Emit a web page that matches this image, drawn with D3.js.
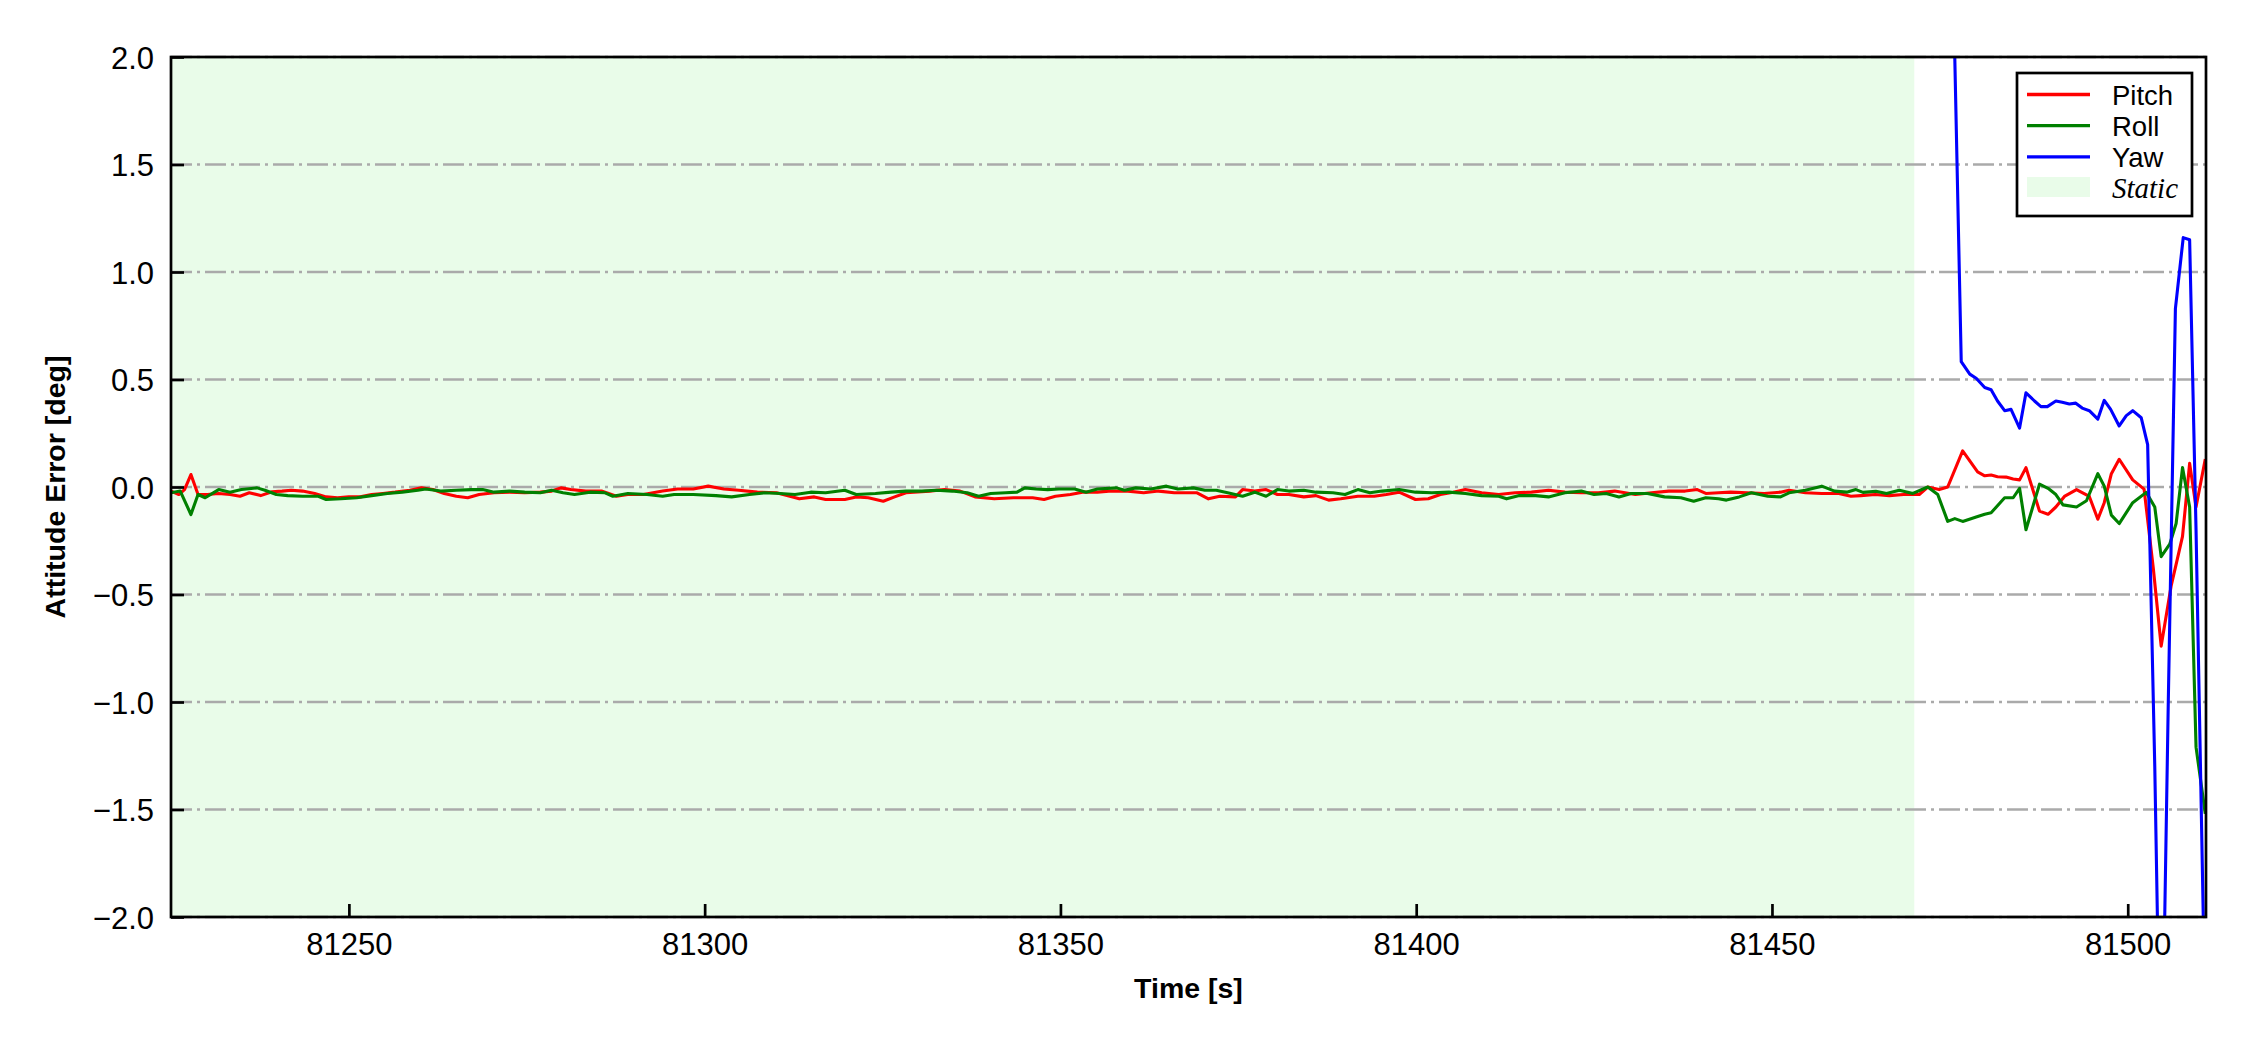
<!DOCTYPE html>
<html>
<head>
<meta charset="utf-8">
<script src="https://cdn.jsdelivr.net/npm/d3@7"></script>
<style>
    body { margin: 0; background: #fff; }
    text { font-family: "Liberation Sans", Arial, sans-serif; }
</style>
</head>
<body>
<svg id="svg" width="2250" height="1050"></svg>
<script>
// time axis [s]
const xDomain = [81225, 81511];
const staticSpan = [81225, 81470];
const xTicks = [81250, 81300, 81350, 81400, 81450, 81500];
const yTicks = [-2.0, -1.5, -1.0, -0.5, 0.0, 0.5, 1.0, 1.5, 2.0];

// Pitch error (red)
const pitchTime = [81225.0, 81226.1, 81226.9, 81227.8, 81228.8, 81230.1, 81231.7, 81233.3, 81234.7, 81236.0,
    81237.6, 81239.2, 81240.6, 81241.9, 81243.5, 81245.2, 81246.8, 81248.4, 81250.0, 81251.6,
    81253.2, 81254.8, 81256.5, 81258.6, 81260.2, 81261.8, 81263.4, 81265.1, 81266.7, 81268.3,
    81270.4, 81272.6, 81274.7, 81276.9, 81278.5, 81279.8, 81281.2, 81283.3, 81285.5, 81287.6,
    81289.2, 81291.4, 81294.1, 81296.2, 81298.4, 81300.5, 81302.7, 81304.8,
    81307.4, 81310.1, 81313.3, 81315.4, 81317.0, 81319.7, 81321.3, 81323.0, 81325.1, 81326.7,
    81328.3, 81331.6, 81333.7, 81335.9, 81338.0, 81340.7, 81343.4, 81346.1, 81347.7, 81349.3,
    81351.4, 81353.1, 81355.2, 81356.8, 81359.5, 81361.7, 81363.8, 81366.0, 81369.2, 81370.8,
    81372.4, 81374.6, 81375.6, 81377.3, 81378.9, 81380.5, 81382.1,
    81384.2, 81385.9, 81387.7, 81389.4, 81391.8, 81394.1, 81395.8, 81397.6, 81399.9, 81401.7,
    81403.4, 81405.2, 81406.9, 81409.2, 81411.6, 81413.9, 81416.2, 81418.6, 81420.9, 81423.2,
    81425.6, 81427.9, 81430.8, 81433.1, 81435.5, 81437.8, 81439.5, 81440.7, 81442.5, 81444.2,
    81446.5, 81448.9, 81451.2, 81452.4, 81454.7, 81457.0, 81459.4, 81461.1,
    81462.5, 81464.5, 81466.5, 81468.5, 81470.7, 81471.9, 81473.5, 81474.7, 81476.8, 81478.9,
    81479.9, 81480.8, 81481.7, 81482.9, 81483.9, 81484.8, 81485.7, 81487.6, 81488.8, 81489.9,
    81491.1, 81492.8, 81494.6, 81495.8, 81496.7, 81497.7, 81498.8, 81500.7, 81502.3, 81503.6,
    81504.7, 81506.1, 81506.8, 81507.7, 81508.7, 81509.6, 81510.9];
const pitch = [-0.019, -0.035, -0.012, 0.058, -0.035, -0.035, -0.030, -0.035, -0.043, -0.027,
    -0.040, -0.022, -0.019, -0.015, -0.019, -0.030, -0.046, -0.050, -0.046, -0.046,
    -0.035, -0.030, -0.024, -0.015, -0.004, -0.012, -0.030, -0.043, -0.050, -0.035,
    -0.027, -0.024, -0.027, -0.024, -0.019, -0.004, -0.012, -0.019, -0.019, -0.043,
    -0.035, -0.035, -0.019, -0.009, -0.009, 0.004, -0.009, -0.015,
    -0.024, -0.027, -0.055, -0.046, -0.058, -0.058, -0.046, -0.050, -0.066, -0.046,
    -0.027, -0.019, -0.012, -0.019, -0.046, -0.055, -0.050, -0.050, -0.058, -0.043,
    -0.035, -0.024, -0.024, -0.019, -0.019, -0.027, -0.019, -0.027, -0.027, -0.055,
    -0.043, -0.046, -0.012, -0.019, -0.012, -0.035, -0.035,
    -0.046, -0.040, -0.061, -0.055, -0.043, -0.043, -0.035, -0.024, -0.058, -0.055,
    -0.035, -0.024, -0.012, -0.027, -0.035, -0.027, -0.024, -0.015, -0.024, -0.027,
    -0.027, -0.019, -0.035, -0.027, -0.019, -0.019, -0.012, -0.030, -0.027, -0.024,
    -0.027, -0.030, -0.024, -0.015, -0.027, -0.030, -0.030, -0.043,
    -0.040, -0.035, -0.040, -0.035, -0.035, 0.000, -0.012, 0.000, 0.168, 0.070,
    0.052, 0.056, 0.048, 0.046, 0.037, 0.033, 0.090, -0.112, -0.127, -0.093,
    -0.044, -0.012, -0.044, -0.150, -0.073, 0.062, 0.129, 0.033, -0.010, -0.380,
    -0.740, -0.460, -0.360, -0.230, 0.110, -0.093, 0.130];

// Roll error (green)
const rollTime = [81225.0, 81226.3, 81227.8, 81228.8, 81229.8, 81231.7, 81233.3, 81234.9, 81237.1, 81238.2,
    81239.8, 81241.4, 81243.5, 81245.7, 81246.8, 81248.9, 81251.1, 81253.2, 81255.4, 81257.5,
    81259.7, 81260.8, 81262.9, 81265.1, 81267.2, 81268.8, 81270.4, 81272.6, 81274.7, 81276.9,
    81278.5, 81280.1, 81281.7, 81283.9, 81286.0, 81287.1, 81289.2, 81291.9, 81294.1, 81295.7,
    81298.4, 81301.6, 81303.8,
    81306.3, 81308.4, 81310.6, 81312.7, 81314.9, 81317.0, 81319.7, 81321.3, 81324.0, 81326.2,
    81328.3, 81330.5, 81332.6, 81334.8, 81336.9, 81338.5, 81340.2, 81342.3, 81343.9, 81345.0,
    81346.6, 81348.2, 81349.8, 81352.0, 81353.6, 81355.2, 81357.9, 81359.0, 81360.6, 81362.7,
    81364.9, 81366.5, 81368.7, 81370.3, 81371.9, 81373.5, 81375.6, 81377.3, 81378.9, 81380.5,
    81382.1,
    81384.2, 81385.9, 81388.3, 81390.0, 81391.8, 81393.5, 81395.2, 81397.6, 81399.9, 81402.2,
    81404.6, 81406.9, 81409.2, 81411.6, 81412.7, 81414.5, 81416.8, 81418.6, 81420.9, 81423.2,
    81425.0, 81426.7, 81428.5, 81430.2, 81432.5, 81434.9, 81437.2, 81439.0, 81440.7, 81442.5,
    81443.6, 81445.4, 81447.1, 81449.4, 81451.2, 81452.4, 81454.7, 81457.0, 81458.8, 81460.5,
    81461.8, 81462.8, 81464.6, 81466.1, 81467.9, 81469.8, 81471.9, 81473.3, 81474.7, 81475.7,
    81476.8, 81478.7, 81479.9, 81480.8, 81482.7, 81483.9, 81484.8, 81485.7, 81487.6, 81488.8,
    81489.9, 81490.9, 81492.8, 81494.2, 81495.8, 81496.7, 81497.7, 81498.8, 81500.7, 81502.6,
    81503.8, 81504.7, 81505.9, 81506.8, 81507.7, 81508.7, 81509.6, 81510.9];
const roll = [-0.027, -0.019, -0.128, -0.035, -0.050, -0.012, -0.024, -0.012, -0.004, -0.015,
    -0.035, -0.040, -0.043, -0.043, -0.058, -0.055, -0.050, -0.040, -0.030, -0.024,
    -0.015, -0.009, -0.019, -0.015, -0.012, -0.012, -0.024, -0.019, -0.024, -0.027,
    -0.015, -0.027, -0.035, -0.024, -0.027, -0.043, -0.030, -0.035, -0.043, -0.035,
    -0.035, -0.040, -0.046,
    -0.035, -0.027, -0.030, -0.035, -0.024, -0.027, -0.015, -0.035, -0.030, -0.024,
    -0.019, -0.019, -0.015, -0.019, -0.027, -0.043, -0.030, -0.027, -0.024, -0.004,
    -0.009, -0.012, -0.009, -0.009, -0.024, -0.009, -0.004, -0.015, -0.004, -0.009,
    0.004, -0.009, -0.004, -0.015, -0.015, -0.027, -0.043, -0.024, -0.043, -0.012,
    -0.019,
    -0.015, -0.024, -0.027, -0.035, -0.012, -0.027, -0.019, -0.012, -0.024, -0.027,
    -0.024, -0.030, -0.040, -0.043, -0.055, -0.040, -0.040, -0.046, -0.027, -0.019,
    -0.035, -0.030, -0.046, -0.030, -0.030, -0.046, -0.050, -0.066, -0.050, -0.055,
    -0.061, -0.046, -0.027, -0.043, -0.046, -0.027, -0.015, 0.004, -0.019, -0.024,
    -0.012, -0.025, -0.020, -0.030, -0.015, -0.030, 0.000, -0.035, -0.160, -0.147,
    -0.160, -0.140, -0.127, -0.120, -0.050, -0.050, -0.006, -0.199, 0.013, -0.006,
    -0.035, -0.083, -0.093, -0.064, 0.062, 0.004, -0.131, -0.170, -0.073, -0.025,
    -0.093, -0.324, -0.266, -0.170, 0.090, -0.093, -1.210, -1.520];

// Yaw error (blue), off the chart until the end of the static phase
const yawTime = [81475.5, 81476.6, 81477.8, 81478.7, 81479.9, 81480.8, 81481.7, 81482.7, 81483.6, 81484.8,
    81485.7, 81486.9, 81487.8, 81488.7, 81489.9, 81490.8, 81491.8, 81492.7, 81493.6, 81494.6,
    81495.8, 81496.7, 81497.6, 81498.8, 81499.8, 81500.7, 81501.9, 81502.8, 81503.8, 81504.7,
    81505.7, 81506.7, 81507.8, 81508.7, 81509.6, 81510.9];
const yaw = [2.300, 0.583, 0.525, 0.506, 0.463, 0.452, 0.400, 0.355, 0.361, 0.274,
    0.438, 0.400, 0.374, 0.374, 0.400, 0.394, 0.386, 0.390, 0.367, 0.355,
    0.316, 0.403, 0.361, 0.284, 0.332, 0.355, 0.322, 0.197, -1.300, -3.000,
    -1.000, 0.830, 1.160, 1.150, -0.200, -2.500];

const legendNames = ["Pitch", "Roll", "Yaw"];
const colors = ["#ff0000", "#008000", "#0000ff"];
const staticColor = "#e9fce9";

let margin = { top: 57, right: 44, bottom: 133, left: 171 }, width = 2250 - 171 - 44, height = 1050 - 57 - 133;

let svg = d3.select("#svg")
    .append("g")
    .attr("transform", "translate(" + margin.left + "," + margin.top + ")");

let xScale = d3.scaleLinear()
    .domain(xDomain)
    .range([0, width]);

let yScale = d3.scaleLinear()
    .domain([-2, 2])
    .range([height, 0]);

svg.append("clipPath")
    .attr("id", "plotclip")
    .append("rect")
    .attr("width", width)
    .attr("height", height);

// static phase shading
svg.append("rect")
    .attr("x", xScale(staticSpan[0]))
    .attr("y", 0)
    .attr("width", xScale(staticSpan[1]) - xScale(staticSpan[0]))
    .attr("height", height)
    .attr("fill", staticColor);

// horizontal dash-dot grid
svg.append("g")
    .selectAll("line")
    .data(yTicks)
    .join("line")
    .attr("x1", 0)
    .attr("x2", width)
    .attr("y1", d => yScale(d))
    .attr("y2", d => yScale(d))
    .attr("stroke", "#aaaaaa")
    .attr("stroke-width", 2.6)
    .attr("stroke-dasharray", "21,5,3,5");

// series
let series = [
    { time: pitchTime, values: pitch },
    { time: rollTime, values: roll },
    { time: yawTime, values: yaw }
];

let line = d3.line()
    .x(d => xScale(d[0]))
    .y(d => yScale(d[1]));

let lines = svg.append("g").attr("clip-path", "url(#plotclip)");
series.forEach((s, i) => {
    lines.append("path")
        .datum(d3.zip(s.time, s.values))
        .attr("fill", "none")
        .attr("stroke", colors[i])
        .attr("stroke-width", 3.1)
        .attr("stroke-linejoin", "round")
        .attr("d", line);
});

// axes, ticks pointing inward
let xAxis = svg.append("g")
    .attr("transform", "translate(0," + height + ")")
    .call(d3.axisBottom(xScale).tickValues(xTicks).tickFormat(d3.format("d"))
        .tickSizeInner(-13).tickSizeOuter(0).tickPadding(16));

let yAxis = svg.append("g")
    .call(d3.axisLeft(yScale).tickValues(yTicks).tickFormat(d3.format(".1f"))
        .tickSizeInner(-13).tickSizeOuter(0).tickPadding(17));

[xAxis, yAxis].forEach(ax => {
    ax.select(".domain").remove();
    ax.selectAll("line").attr("stroke", "#000").attr("stroke-width", 2.7);
    ax.selectAll("text")
        .attr("fill", "#000")
        .style("font-size", "31px")
        .style("font-family", "'Liberation Sans', Arial, sans-serif");
});
yAxis.selectAll("text").attr("dy", "0.37em");

// frame
svg.append("rect")
    .attr("width", width)
    .attr("height", height)
    .attr("fill", "none")
    .attr("stroke", "#000")
    .attr("stroke-width", 2.7);

// axis titles
svg.append("text")
    .attr("x", width / 2)
    .attr("y", 998 - margin.top)
    .attr("text-anchor", "middle")
    .style("font-size", "28.5px")
    .style("font-weight", "bold")
    .text("Time [s]");

svg.append("text")
    .attr("transform", "translate(" + (65 - margin.left) + "," + (height / 2) + ") rotate(-90)")
    .attr("text-anchor", "middle")
    .style("font-size", "28.5px")
    .style("font-weight", "bold")
    .text("Attitude Error [deg]");

// legend
let legend = svg.append("g")
    .attr("transform", "translate(" + (2017 - margin.left) + "," + (73 - margin.top) + ")");

legend.append("rect")
    .attr("width", 175)
    .attr("height", 143)
    .attr("fill", "#fff")
    .attr("stroke", "#000")
    .attr("stroke-width", 2.7);

legendNames.forEach((name, i) => {
    let y = 21.5 + i * 31.2;
    legend.append("line")
        .attr("x1", 10).attr("x2", 73)
        .attr("y1", y).attr("y2", y)
        .attr("stroke", colors[i])
        .attr("stroke-width", 3.3);
    legend.append("text")
        .attr("x", 95)
        .attr("y", y + 10.5)
        .style("font-size", "27.5px")
        .text(name);
});

legend.append("rect")
    .attr("x", 10).attr("y", 104)
    .attr("width", 63).attr("height", 20)
    .attr("fill", staticColor);
legend.append("text")
    .attr("x", 95)
    .attr("y", 114 + 10.5)
    .style("font-size", "29px")
    .style("font-style", "italic")
    .style("font-family", "'Liberation Serif', 'Times New Roman', serif")
    .text("Static");
</script>
</body>
</html>
